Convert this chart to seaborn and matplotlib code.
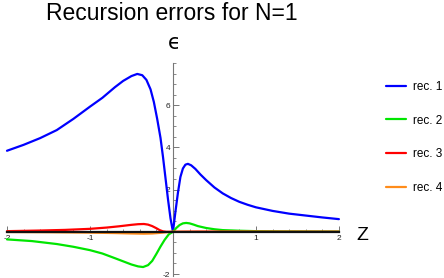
import numpy as np
import pandas as pd
import matplotlib
matplotlib.use("Agg")
import matplotlib.pyplot as plt
import seaborn as sns

title = "Recursion errors for N=1"
series_names = ["rec. 1", "rec. 2", "rec. 3", "rec. 4"]
colors = ["#0000ff", "#00e600", "#ff0000", "#ff8c1a"]

# rec. 1 (blue)
x1 = [-2.0, -1.8, -1.6, -1.4, -1.2, -1.0, -0.85, -0.7, -0.6, -0.5, -0.43, -0.37, -0.32, -0.27,
      -0.23, -0.19, -0.15, -0.12, -0.09, -0.06, -0.03, 0.0, 0.03, 0.06, 0.09, 0.12, 0.15,
      0.18, 0.22, 0.27, 0.33, 0.4, 0.5, 0.6, 0.7, 0.8, 0.9, 1.0, 1.2, 1.4, 1.6, 1.8, 2.0]
y1 = [3.84, 4.12, 4.44, 4.82, 5.35, 5.93, 6.35, 6.85, 7.15, 7.38, 7.48, 7.42, 7.20, 6.75,
      6.15, 5.35, 4.45, 3.55, 2.55, 1.55, 0.65, 0.0, 0.95, 1.85, 2.6, 3.0, 3.18,
      3.22, 3.15, 2.98, 2.72, 2.45, 2.1, 1.82, 1.6, 1.42, 1.28, 1.16, 0.99, 0.86, 0.77, 0.68, 0.6]

# rec. 2 (green)
x2 = [-2.0, -1.7, -1.4, -1.2, -1.0, -0.85, -0.7, -0.6, -0.5, -0.42, -0.36, -0.3, -0.25,
      -0.2, -0.15, -0.1, -0.05, 0.0, 0.04, 0.08, 0.12, 0.16, 0.2, 0.25, 0.3, 0.4, 0.5,
      0.6, 0.8, 1.0, 1.3, 1.6, 2.0]
y2 = [-0.36, -0.44, -0.58, -0.71, -0.87, -1.03, -1.25, -1.40, -1.55, -1.64, -1.67, -1.58,
      -1.38, -1.05, -0.70, -0.38, -0.12, 0.0, 0.18, 0.32, 0.40, 0.42, 0.40, 0.34, 0.27,
      0.18, 0.12, 0.08, 0.05, 0.03, 0.02, 0.015, 0.01]

# rec. 3 (red)
x3 = [-2.0, -1.6, -1.3, -1.0, -0.8, -0.65, -0.5, -0.42, -0.35, -0.3, -0.25, -0.2, -0.16,
      -0.12, -0.08, 0.0, 0.3, 1.0, 2.0]
y3 = [0.03, 0.06, 0.09, 0.14, 0.20, 0.26, 0.33, 0.36, 0.37, 0.34, 0.27, 0.17, 0.08,
      0.02, 0.0, 0.0, 0.01, 0.005, 0.0]

# rec. 4 (orange)
x4 = [-2.0, -1.5, -1.0, -0.7, -0.5, -0.35, -0.25, -0.15, -0.08, 0.0, 0.5, 1.0, 2.0]
y4 = [-0.01, -0.02, -0.04, -0.06, -0.08, -0.09, -0.08, -0.05, -0.02, 0.0, 0.0, 0.0, 0.0]

xticks_major = [-2, -1, 1, 2]
yticks_major = [-2, 2, 4, 6]

frames = []
for name, xs, ys in zip(series_names, [x1, x2, x3, x4], [y1, y2, y3, y4]):
    frames.append(pd.DataFrame({"z": xs, "eps": ys, "series": name}))
df = pd.concat(frames, ignore_index=True)

sns.set_theme(style="white")
plt.rcParams["font.family"] = ["Liberation Sans", "DejaVu Sans"]

fig = plt.figure(figsize=(4.44, 2.78), dpi=100)
ax = fig.add_axes([0.012, 0.003, 0.770, 0.7705])

sns.lineplot(data=df, x="z", y="eps", hue="series", hue_order=series_names,
             palette=colors, sort=False, estimator=None, linewidth=1.6, ax=ax,
             zorder=3)

ax.set_xlim(-2.02, 2.1)
ax.set_ylim(-2.15, 8.0)

for s in ["top", "right"]:
    ax.spines[s].set_visible(False)
ax.spines["left"].set_position(("data", 0))
ax.spines["bottom"].set_position(("data", 0))
ax.spines["left"].set_color("#777777")
ax.spines["left"].set_linewidth(0.8)
ax.spines["bottom"].set_color("#111111")
ax.spines["bottom"].set_linewidth(1.6)
ax.spines["bottom"].set_bounds(-2.0, 2.0)
ax.spines["bottom"].set_zorder(4)
ax.spines["left"].set_bounds(-2.1, 8.0)

ax.set_xticks(xticks_major)
ax.set_yticks(yticks_major)
ax.set_xticks(np.arange(-2.0, 2.01, 0.2), minor=True)
ax.set_yticks(np.arange(-2.0, 8.01, 0.5), minor=True)
ax.set_xticklabels([str(v) for v in xticks_major])
ax.set_yticklabels([str(v) for v in yticks_major])
ax.tick_params(axis="both", which="major", direction="in", length=4, width=0.7,
               colors="#777777", labelcolor="#222222", labelsize=6, pad=2)
ax.tick_params(axis="both", which="minor", direction="in", length=2, width=0.6,
               colors="#777777")
ax.tick_params(axis="both", which="both", bottom=True, left=True)
ax.set_xlabel("")
ax.set_ylabel("")

fig.text(0.387, 1 - 13 / 278, title, ha="center", va="center", fontsize=16.5,
         color="black")
fig.text(174 / 444, 1 - 43 / 278, "ϵ", ha="center", va="center", fontsize=15,
         family=["DejaVu Sans"], color="black")
fig.text(362 / 444, 1 - 236 / 278, "Z", ha="center", va="center", fontsize=14,
         color="black")

handles, labels = ax.get_legend_handles_labels()
leg = ax.legend(handles, labels, loc="upper left", bbox_to_anchor=(381 / 444, 1 - 76 / 278),
                bbox_transform=fig.transFigure, frameon=False, fontsize=8.5,
                handlelength=1.7, handletextpad=0.6, labelspacing=1.85, borderaxespad=0)
for t in leg.get_texts():
    t.set_color("black")

fig.savefig("out.png", dpi=100)
